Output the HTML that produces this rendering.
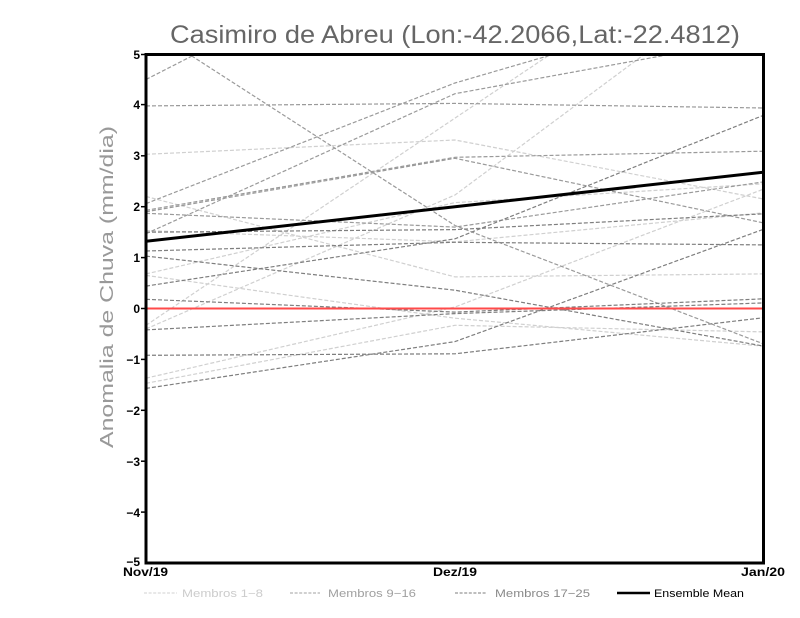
<!DOCTYPE html>
<html><head><meta charset="utf-8"><style>
html,body{margin:0;padding:0;background:#fff;}
svg{display:block;}
text{font-family:"Liberation Sans",sans-serif;}
</style></head><body>
<svg width="800" height="618" viewBox="0 0 800 618" xmlns="http://www.w3.org/2000/svg">
<rect width="800" height="618" fill="#fff"/>
<defs><clipPath id="pc"><rect x="146" y="54" width="618" height="509"/></clipPath></defs>

<text x="170" y="43" font-size="25" fill="#666" textLength="570" lengthAdjust="spacingAndGlyphs">Casimiro de Abreu (Lon:-42.2066,Lat:-22.4812)</text>

<text transform="translate(113,287) rotate(-90)" text-anchor="middle" font-size="18" fill="#999" textLength="322" lengthAdjust="spacingAndGlyphs">Anomalia de Chuva (mm/dia)</text>

<g clip-path="url(#pc)" fill="none" stroke-width="1.2" stroke-dasharray="4 2">
<g stroke="#d0d0d0">
<polyline points="146,154.3 455,140.0 764,199.1"/>
<polyline points="146,196.5 455,276.9 764,273.9"/>
<polyline points="146,325.3 455,118.1 764,-88.5"/>
<polyline points="146,328.9 455,195.0 764,-34.6"/>
<polyline points="146,230.6 455,241.8 764,212.8"/>
<polyline points="146,273.9 455,202.6 764,183.8"/>
<polyline points="146,378.2 455,307.0 764,188.9"/>
<polyline points="146,383.3 455,325.3 764,331.9"/>
<polyline points="146,275.4 455,318.2 764,346.2"/>
</g>
<g stroke="#9a9a9a">
<polyline points="146,79.5 455,-78.3 764,-98.7"/>
<polyline points="146,26.5 455,225.5 764,344.1"/>
<polyline points="146,105.9 455,103.4 764,108.0"/>
<polyline points="146,203.6 455,83.0 764,-7.1"/>
<polyline points="146,233.7 455,93.7 764,37.2"/>
<polyline points="146,210.3 455,157.3 764,151.2"/>
<polyline points="146,211.8 455,158.3 764,223.0"/>
<polyline points="146,213.3 455,227.1 764,181.8"/>
</g>
<g stroke="#7e7e7e">
<polyline points="146,232.2 455,229.6 764,213.8"/>
<polyline points="146,251.0 455,242.3 764,244.9"/>
<polyline points="146,256.1 455,290.2 764,346.2"/>
<polyline points="146,286.1 455,238.8 764,115.1"/>
<polyline points="146,299.3 455,312.1 764,298.8"/>
<polyline points="146,329.9 455,313.6 764,302.9"/>
<polyline points="146,355.3 455,353.8 764,317.7"/>
<polyline points="146,388.4 455,341.6 764,229.1"/>
</g>
</g>

<line x1="146" y1="308.5" x2="764" y2="308.5" stroke="#ff4a4a" stroke-width="2"/>
<polyline clip-path="url(#pc)" points="146,241.3 455,206.7 764,172.1" fill="none" stroke="#000" stroke-width="3"/>

<rect x="146" y="54.5" width="617.5" height="508.5" fill="none" stroke="#000" stroke-width="3"/>

<g stroke="#000" stroke-width="1.5">
<line x1="141" y1="54.5" x2="146" y2="54.5"/>
<line x1="141" y1="104.6" x2="146" y2="104.6"/>
<line x1="141" y1="155.8" x2="146" y2="155.8"/>
<line x1="141" y1="206.7" x2="146" y2="206.7"/>
<line x1="141" y1="257.6" x2="146" y2="257.6"/>
<line x1="141" y1="308.5" x2="146" y2="308.5"/>
<line x1="141" y1="359.4" x2="146" y2="359.4"/>
<line x1="141" y1="410.3" x2="146" y2="410.3"/>
<line x1="141" y1="461.2" x2="146" y2="461.2"/>
<line x1="141" y1="512.1" x2="146" y2="512.1"/>
</g>
<g font-size="12" font-weight="bold" fill="#000" text-anchor="end">
<text x="140" y="59">5</text>
<text x="140" y="109">4</text>
<text x="140" y="160">3</text>
<text x="140" y="211">2</text>
<text x="140" y="262">1</text>
<text x="140" y="313">0</text>
<text x="140" y="364">−1</text>
<text x="140" y="415">−2</text>
<text x="140" y="466">−3</text>
<text x="140" y="517">−4</text>
<text x="140" y="566">−5</text>
</g>
<g font-size="12" font-weight="bold" fill="#000">
<text x="123" y="576" textLength="45" lengthAdjust="spacingAndGlyphs">Nov/19</text>
<text x="433" y="576" textLength="44" lengthAdjust="spacingAndGlyphs">Dez/19</text>
<text x="741" y="576" textLength="44" lengthAdjust="spacingAndGlyphs">Jan/20</text>
</g>

<g font-size="11">
<line x1="144" y1="593" x2="177" y2="593" stroke="#d0d0d0" stroke-width="1" stroke-dasharray="3 1.6"/>
<text x="182" y="597" fill="#cccccc" textLength="81" lengthAdjust="spacingAndGlyphs">Membros 1−8</text>
<line x1="290" y1="593" x2="320" y2="593" stroke="#a0a0a0" stroke-width="1" stroke-dasharray="3 1.6"/>
<text x="328" y="597" fill="#a0a0a0" textLength="88" lengthAdjust="spacingAndGlyphs">Membros 9−16</text>
<line x1="455" y1="593" x2="487" y2="593" stroke="#7e7e7e" stroke-width="1" stroke-dasharray="3 1.6"/>
<text x="495" y="597" fill="#8a8a8a" textLength="95" lengthAdjust="spacingAndGlyphs">Membros 17−25</text>
<line x1="617" y1="593" x2="650" y2="593" stroke="#000" stroke-width="2.5"/>
<text x="654" y="597" fill="#000" textLength="90" lengthAdjust="spacingAndGlyphs">Ensemble Mean</text>
</g>
</svg>
</body></html>
